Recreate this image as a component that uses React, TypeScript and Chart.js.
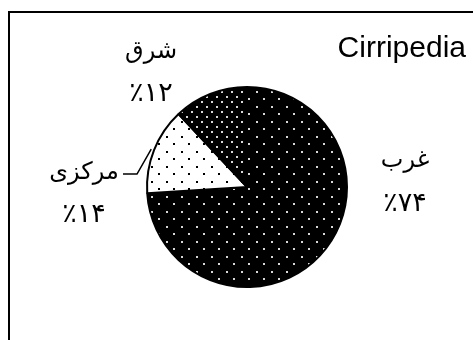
import React, { useEffect, useRef } from "react";
import { Chart, registerables } from "chart.js";

Chart.register(...registerables);

const categories = ["غرب", "مرکزی", "شرق"];
const shares = [74, 14, 12];
const chartTitle = "Cirripedia";

const toPersian = (n: number) =>
  String(n).replace(/[0-9]/g, (d) => "۰۱۲۳۴۵۶۷۸۹"[Number(d)]);

function makePattern(bg: string, fg: string, tile: number, dots: [number, number][], size: number) {
  const c = document.createElement("canvas");
  c.width = tile;
  c.height = tile;
  const g = c.getContext("2d")!;
  g.fillStyle = bg;
  g.fillRect(0, 0, tile, tile);
  g.fillStyle = fg;
  dots.forEach(([x, y]) => g.fillRect(x, y, size, size));
  return g.createPattern(c, "repeat")!;
}

// label placement relative to pie centre (px) — layout only
const labelLayout = [
  { dx: 158, dy: -20, dy2: 24 },
  { dx: -163, dy: -8, dy2: 35 },
  { dx: -96, dy: -129, dy2: -86 },
];

const overlayPlugin = {
  id: "overlay",
  beforeDraw(chart: any) {
    const ctx = chart.ctx;
    ctx.save();
    ctx.fillStyle = "#fff";
    ctx.fillRect(0, 0, chart.width, chart.height);
    ctx.strokeStyle = "#000";
    ctx.lineWidth = 2;
    ctx.strokeRect(9, 12, chart.width + 20, chart.height + 20);
    ctx.restore();
  },
  afterDraw(chart: any) {
    const ctx = chart.ctx;
    const meta = chart.getDatasetMeta(0);
    const arc0 = meta.data[0];
    const cx = arc0.x;
    const cy = arc0.y;
    const r = arc0.outerRadius;
    ctx.save();
    ctx.fillStyle = "#000";
    ctx.textAlign = "center";
    ctx.textBaseline = "alphabetic";
    categories.forEach((name, i) => {
      const L = labelLayout[i];
      ctx.direction = "rtl";
      ctx.font = "24px 'Liberation Serif', 'DejaVu Serif', 'DejaVu Sans'";
      ctx.fillText(name, cx + L.dx, cy + L.dy);
      ctx.direction = "ltr";
      ctx.font = "27px 'Liberation Serif', 'DejaVu Serif', 'DejaVu Sans'";
      ctx.fillText("٪" + toPersian(shares[i]), cx + L.dx, cy + L.dy2);
    });
    // leader line for the middle slice
    const a = meta.data[1];
    const mid = (a.startAngle + a.endAngle) / 2;
    const ex = cx + Math.cos(mid) * (r + 3);
    const ey = cy + Math.sin(mid) * (r + 3);
    ctx.strokeStyle = "#000";
    ctx.lineWidth = 1.5;
    ctx.beginPath();
    ctx.moveTo(cx - 124, cy - 13);
    ctx.lineTo(cx - 110, cy - 13);
    ctx.lineTo(ex, ey);
    ctx.stroke();
    // title
    ctx.textAlign = "right";
    ctx.font = "30px 'Liberation Sans', Arial, sans-serif";
    ctx.fillText(chartTitle, 466, 57);
    ctx.restore();
  },
};

export default function App() {
  const ref = useRef<HTMLCanvasElement>(null);
  useEffect(() => {
    document.body.style.margin = "0";
    const west = makePattern("#000", "#d8d8d8", 15, [[1, 1], [8, 8]], 2);
    const central = makePattern("#fff", "#000", 15, [[1, 1], [8, 8]], 2);
    const east = makePattern("#000", "#d8d8d8", 10, [[1, 1], [6, 6]], 2);
    const chart = new Chart(ref.current!, {
      type: "pie",
      data: {
        labels: categories,
        datasets: [
          {
            data: shares,
            backgroundColor: [west, central, east] as any,
            borderColor: "#000",
            borderWidth: 2,
          },
        ],
      },
      options: {
        animation: false,
        responsive: false,
        layout: { padding: { left: 146, right: 125, top: 86, bottom: 52 } },
        plugins: {
          legend: { display: false },
          tooltip: { enabled: false },
          title: { display: false },
        },
      },
      plugins: [overlayPlugin],
    });
    return () => chart.destroy();
  }, []);
  return <canvas ref={ref} width={473} height={340} style={{ display: "block" }} />;
}
